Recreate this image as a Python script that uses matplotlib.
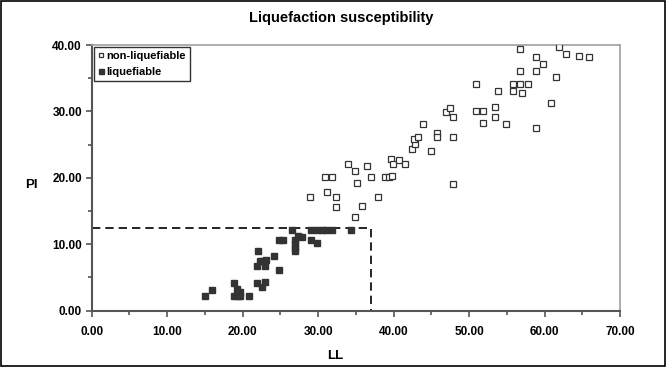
import numpy as np
import matplotlib
matplotlib.use('Agg')
import matplotlib.pyplot as plt
from matplotlib.ticker import MultipleLocator, FormatStrFormatter

plt.rcParams['font.family'] = ['Liberation Sans', 'DejaVu Sans']
plt.rcParams['font.weight'] = 'bold'

# liquefiable soils (LL, PI)
liq_ll = [15.0, 16.0, 18.9, 19.2, 19.6, 18.8, 19.4, 19.7, 20.9, 22.0, 21.9, 22.5,
          23.0, 21.9, 22.3, 22.7, 23.1, 23.0, 24.2, 24.8, 24.8, 25.4, 26.6, 26.9,
          26.9, 26.9, 26.9, 27.4, 27.9, 29.0, 29.0, 29.9, 29.9, 30.5, 31.0, 31.8, 34.4]
liq_pi = [2.2, 3.1, 4.1, 3.3, 2.8, 2.2, 2.2, 2.2, 2.2, 9.0, 4.1, 3.5,
          4.3, 6.7, 7.5, 7.5, 7.6, 6.7, 8.3, 6.1, 10.6, 10.6, 12.1, 10.6,
          10.1, 9.4, 9.0, 11.3, 11.1, 10.6, 12.1, 10.2, 12.1, 12.1, 12.1, 12.1, 12.1]

# non-liquefiable soils (LL, PI)
non_ll = [28.9, 30.9, 31.8, 31.2, 32.4, 32.4, 33.9, 34.9, 35.1, 34.9, 35.8, 36.5,
          37.0, 37.9, 38.8, 39.4, 39.8, 39.7, 39.9, 40.7, 41.5, 42.5, 42.9, 42.7,
          43.2, 43.9, 44.9, 45.8, 45.8, 46.9, 47.5, 47.9, 47.9, 47.9, 50.9, 51.9,
          51.8, 53.4, 53.4, 54.9, 50.9, 53.8, 55.8, 56.8, 57.8, 55.8, 57.0, 56.8,
          58.9, 58.9, 59.8, 56.8, 61.9, 62.9, 64.6, 65.9, 61.5, 60.8, 58.9]
non_pi = [17.1, 20.1, 20.1, 17.8, 17.1, 15.6, 22.1, 21.1, 19.2, 14.1, 15.7, 21.8,
          20.1, 17.1, 20.1, 20.1, 20.3, 22.8, 22.1, 22.7, 22.1, 24.3, 25.1, 25.9,
          26.2, 28.1, 24.1, 26.7, 26.1, 29.9, 30.5, 29.1, 26.1, 19.1, 30.1, 30.1,
          28.2, 30.6, 29.1, 28.1, 34.1, 33.1, 34.1, 34.1, 34.1, 33.1, 32.7, 36.1,
          36.1, 38.2, 37.2, 39.4, 39.7, 38.6, 38.4, 38.2, 35.2, 31.2, 27.5]

# boundary of liquefiable zone
ll_limit = 37.0
pi_limit = 12.5

fig = plt.figure(figsize=(6.68, 3.67), dpi=100)
ax = fig.add_axes([91.7 / 668, 1 - 310.7 / 367, (620 - 91.7) / 668, (310.7 - 45) / 367])

ax.plot(non_ll, non_pi, 's', ms=4, mfc='white', mec='#333333', mew=0.9,
        label='non-liquefiable', zorder=3)
ax.plot(liq_ll, liq_pi, 's', ms=4.5, mfc='#333333', mec='#333333',
        label='liquefiable', zorder=3)

ax.plot([0, ll_limit, ll_limit], [pi_limit, pi_limit, 0], '--', color='black',
        lw=1.2, dashes=(5, 3), zorder=2)

ax.set_xlim(0, 70)
ax.set_ylim(0, 40)
ax.xaxis.set_major_locator(MultipleLocator(10))
ax.xaxis.set_minor_locator(MultipleLocator(5))
ax.yaxis.set_major_locator(MultipleLocator(10))
ax.yaxis.set_minor_locator(MultipleLocator(5))
ax.xaxis.set_major_formatter(FormatStrFormatter('%.2f'))
ax.yaxis.set_major_formatter(FormatStrFormatter('%.2f'))
ax.tick_params(which='both', direction='out', color='#555555', width=1.2, labelsize=8.5)
ax.tick_params(which='major', length=4)
ax.tick_params(which='minor', length=3)
ax.tick_params(axis='x', pad=7)
ax.tick_params(axis='y', pad=3)

for s in ['top', 'right']:
    ax.spines[s].set_color('#a0a0a0')
    ax.spines[s].set_linewidth(1.2)
for s in ['left', 'bottom']:
    ax.spines[s].set_color('#555555')
    ax.spines[s].set_linewidth(1.5)

ax.set_xlabel('LL', fontsize=9.5, fontweight='bold')
ax.set_ylabel('PI', fontsize=9.5, fontweight='bold', rotation=0, va='center', ha='center')
ax.xaxis.set_label_coords((335 - 91.7) / (620 - 91.7), -(350 - 310.7) / (310.7 - 45))
ax.yaxis.set_label_coords(-(91.7 - 31) / (620 - 91.7), (310.7 - 185) / (310.7 - 45))

fig.text(341 / 668, 1 - 18 / 367, 'Liquefaction susceptibility', ha='center', va='center',
         fontsize=10.5, fontweight='bold')

leg = ax.legend(loc='upper left', bbox_to_anchor=(0.0, 1.0), fontsize=8, frameon=True,
                fancybox=False, handlelength=0.5, handletextpad=0.3, borderpad=0.35,
                labelspacing=0.55, borderaxespad=0.2, markerscale=0.8)
leg.get_frame().set_edgecolor('black')
leg.get_frame().set_linewidth(1.0)

fig.patches.append(plt.Rectangle((1 / 668, 1 / 367), 664 / 668, 365 / 367, fill=False,
                                 edgecolor='black', lw=1.2, transform=fig.transFigure))

fig.savefig('out.png', dpi=100)
